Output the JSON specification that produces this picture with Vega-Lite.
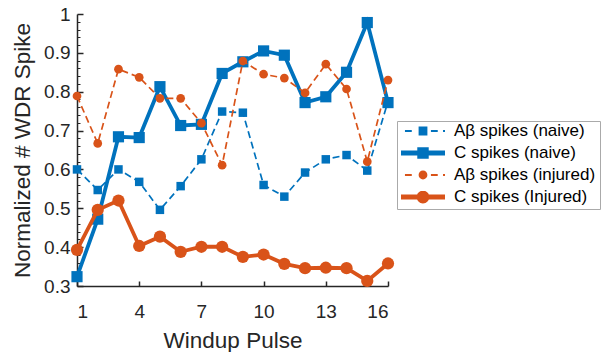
{
  "$schema": "https://vega.github.io/schema/vega-lite/v6.json",
  "width": 311,
  "height": 272,
  "autosize": {"type": "none"},
  "padding": {"left": 77, "top": 14, "right": 220, "bottom": 66},
  "background": "white",
  "config": {
    "view": {"stroke": null},
    "font": "Liberation Sans",
    "axis": {
      "labelFont": "Liberation Sans",
      "labelFontSize": 19,
      "labelColor": "#262626",
      "titleFont": "Liberation Sans",
      "titleFontSize": 22.5,
      "titleFontWeight": "normal",
      "titleColor": "#262626",
      "domainColor": "#262626",
      "tickColor": "#262626",
      "domainWidth": 1.5,
      "tickWidth": 1.5,
      "grid": false
    }
  },
  "data": {
    "values": [
      {"x": 1, "series": "Aβ spikes (naive)", "v": 0.600},
      {"x": 2, "series": "Aβ spikes (naive)", "v": 0.547},
      {"x": 3, "series": "Aβ spikes (naive)", "v": 0.600},
      {"x": 4, "series": "Aβ spikes (naive)", "v": 0.568},
      {"x": 5, "series": "Aβ spikes (naive)", "v": 0.496},
      {"x": 6, "series": "Aβ spikes (naive)", "v": 0.557},
      {"x": 7, "series": "Aβ spikes (naive)", "v": 0.626},
      {"x": 8, "series": "Aβ spikes (naive)", "v": 0.749},
      {"x": 9, "series": "Aβ spikes (naive)", "v": 0.746},
      {"x": 10, "series": "Aβ spikes (naive)", "v": 0.560},
      {"x": 11, "series": "Aβ spikes (naive)", "v": 0.530},
      {"x": 12, "series": "Aβ spikes (naive)", "v": 0.592},
      {"x": 13, "series": "Aβ spikes (naive)", "v": 0.626},
      {"x": 14, "series": "Aβ spikes (naive)", "v": 0.637},
      {"x": 15, "series": "Aβ spikes (naive)", "v": 0.597},
      {"x": 16, "series": "Aβ spikes (naive)", "v": 0.775},
      {"x": 1, "series": "C spikes (naive)", "v": 0.324},
      {"x": 2, "series": "C spikes (naive)", "v": 0.472},
      {"x": 3, "series": "C spikes (naive)", "v": 0.684},
      {"x": 4, "series": "C spikes (naive)", "v": 0.682},
      {"x": 5, "series": "C spikes (naive)", "v": 0.813},
      {"x": 6, "series": "C spikes (naive)", "v": 0.713},
      {"x": 7, "series": "C spikes (naive)", "v": 0.716},
      {"x": 8, "series": "C spikes (naive)", "v": 0.847},
      {"x": 9, "series": "C spikes (naive)", "v": 0.877},
      {"x": 10, "series": "C spikes (naive)", "v": 0.905},
      {"x": 11, "series": "C spikes (naive)", "v": 0.894},
      {"x": 12, "series": "C spikes (naive)", "v": 0.772},
      {"x": 13, "series": "C spikes (naive)", "v": 0.787},
      {"x": 14, "series": "C spikes (naive)", "v": 0.850},
      {"x": 15, "series": "C spikes (naive)", "v": 0.978},
      {"x": 16, "series": "C spikes (naive)", "v": 0.772},
      {"x": 1, "series": "Aβ spikes (injured)", "v": 0.789},
      {"x": 2, "series": "Aβ spikes (injured)", "v": 0.667},
      {"x": 3, "series": "Aβ spikes (injured)", "v": 0.858},
      {"x": 4, "series": "Aβ spikes (injured)", "v": 0.837},
      {"x": 5, "series": "Aβ spikes (injured)", "v": 0.783},
      {"x": 6, "series": "Aβ spikes (injured)", "v": 0.783},
      {"x": 7, "series": "Aβ spikes (injured)", "v": 0.719},
      {"x": 8, "series": "Aβ spikes (injured)", "v": 0.611},
      {"x": 9, "series": "Aβ spikes (injured)", "v": 0.879},
      {"x": 10, "series": "Aβ spikes (injured)", "v": 0.845},
      {"x": 11, "series": "Aβ spikes (injured)", "v": 0.835},
      {"x": 12, "series": "Aβ spikes (injured)", "v": 0.797},
      {"x": 13, "series": "Aβ spikes (injured)", "v": 0.871},
      {"x": 14, "series": "Aβ spikes (injured)", "v": 0.807},
      {"x": 15, "series": "Aβ spikes (injured)", "v": 0.620},
      {"x": 16, "series": "Aβ spikes (injured)", "v": 0.830},
      {"x": 1, "series": "C spikes (Injured)", "v": 0.393},
      {"x": 2, "series": "C spikes (Injured)", "v": 0.496},
      {"x": 3, "series": "C spikes (Injured)", "v": 0.520},
      {"x": 4, "series": "C spikes (Injured)", "v": 0.403},
      {"x": 5, "series": "C spikes (Injured)", "v": 0.427},
      {"x": 6, "series": "C spikes (Injured)", "v": 0.388},
      {"x": 7, "series": "C spikes (Injured)", "v": 0.401},
      {"x": 8, "series": "C spikes (Injured)", "v": 0.401},
      {"x": 9, "series": "C spikes (Injured)", "v": 0.375},
      {"x": 10, "series": "C spikes (Injured)", "v": 0.381},
      {"x": 11, "series": "C spikes (Injured)", "v": 0.357},
      {"x": 12, "series": "C spikes (Injured)", "v": 0.346},
      {"x": 13, "series": "C spikes (Injured)", "v": 0.347},
      {"x": 14, "series": "C spikes (Injured)", "v": 0.346},
      {"x": 15, "series": "C spikes (Injured)", "v": 0.313},
      {"x": 16, "series": "C spikes (Injured)", "v": 0.358}
    ]
  },
  "layer": [
    {
      "mark": {"type": "point", "opacity": 0},
      "encoding": {
        "y": {
          "field": "v",
          "type": "quantitative",
          "scale": {"domain": [0.3, 1], "nice": false, "zero": false},
          "axis": {
            "orient": "left",
            "values": [0.32, 0.34, 0.36, 0.38, 0.42, 0.44, 0.46, 0.48, 0.52, 0.54, 0.56, 0.58, 0.62, 0.64, 0.66, 0.68, 0.72, 0.74, 0.76, 0.78, 0.82, 0.84, 0.86, 0.88, 0.92, 0.94, 0.96, 0.98],
            "labels": false,
            "domain": false,
            "title": null,
            "tickSize": -3,
            "tickWidth": 1
          }
        }
      }
    },
    {
      "encoding": {
        "x": {
          "field": "x",
          "type": "quantitative",
          "scale": {"domain": [1, 16], "nice": false, "zero": false},
          "axis": {
            "values": [1, 4, 7, 10, 13, 16],
            "title": "Windup Pulse",
            "tickSize": -5,
            "labelPadding": 21,
            "titlePadding": 8
          }
        },
        "y": {
          "field": "v",
          "type": "quantitative",
          "scale": {"domain": [0.3, 1], "nice": false, "zero": false},
          "axis": {
            "orient": "left",
            "values": [0.3, 0.4, 0.5, 0.6, 0.7, 0.8, 0.9, 1],
            "format": ".1~f",
            "title": "Normalized # WDR Spike",
            "tickSize": -6,
            "labelPadding": 13,
            "titlePadding": 9
          }
        },
        "color": {
          "field": "series",
          "type": "nominal",
          "scale": {
            "domain": ["Aβ spikes (naive)", "C spikes (naive)", "Aβ spikes (injured)", "C spikes (Injured)"],
            "range": ["#0072BD", "#0072BD", "#D95319", "#D95319"]
          },
          "legend": {
            "title": null,
            "orient": "none",
            "legendX": 320,
            "legendY": 107,
            "symbolSize": 1936,
            "clipHeight": 12,
            "rowPadding": 5,
            "padding": 4,
            "labelOffset": 9,
            "labelFont": "Liberation Sans",
            "labelFontSize": 17,
            "labelColor": "#000000",
            "labelLimit": 300,
            "strokeColor": "#aaaaaa",
            "fillColor": "white",
            "encode": {
              "symbols": {
                "update": {
                  "shape": {"signal": "datum.value === 'C spikes (naive)' ? 'M-1,-0.11H1V0.11H-1Z M-0.26,-0.26H0.26V0.26H-0.26Z' : datum.value === 'C spikes (Injured)' ? 'M-1,-0.11H1V0.11H-1Z M-0.29,0A0.29,0.29 0 1,1 0.29,0A0.29,0.29 0 1,1 -0.29,0Z' : datum.value === 'Aβ spikes (naive)' ? 'M-0.82,-0.04H-0.51V0.04H-0.82Z M0.36,-0.04H0.67V0.04H0.36Z M0.91,-0.04H1V0.04H0.91Z M-0.2,-0.2H0.2V0.2H-0.2Z' : 'M-0.82,-0.04H-0.51V0.04H-0.82Z M0.36,-0.04H0.67V0.04H0.36Z M0.91,-0.04H1V0.04H0.91Z M-0.2,0A0.2,0.2 0 1,1 0.2,0A0.2,0.2 0 1,1 -0.2,0Z'"},
                  "fill": {"scale": "color", "field": "value"},
                  "stroke": {"value": "transparent"},
                  "strokeWidth": {"value": 0},
                  "opacity": {"value": 1}
                }
              }
            }
          }
        }
      },
      "layer": [
        {
          "transform": [{"filter": "datum.series === 'Aβ spikes (naive)'"}],
          "mark": {"type": "line", "strokeWidth": 1.7, "strokeDash": [7, 4], "point": {"shape": "square", "size": 72, "filled": true, "opacity": 1}}
        },
        {
          "transform": [{"filter": "datum.series === 'C spikes (naive)'"}],
          "mark": {"type": "line", "strokeWidth": 3.8, "point": {"shape": "square", "size": 125, "filled": true, "opacity": 1}}
        },
        {
          "transform": [{"filter": "datum.series === 'Aβ spikes (injured)'"}],
          "mark": {"type": "line", "strokeWidth": 1.7, "strokeDash": [7, 4], "point": {"shape": "circle", "size": 76, "filled": true, "opacity": 1}}
        },
        {
          "transform": [{"filter": "datum.series === 'C spikes (Injured)'"}],
          "mark": {"type": "line", "strokeWidth": 3.8, "point": {"shape": "circle", "size": 150, "filled": true, "opacity": 1}}
        }
      ]
    }
  ],
  "resolve": {"scale": {"y": "independent"}, "axis": {"y": "independent"}}
}
